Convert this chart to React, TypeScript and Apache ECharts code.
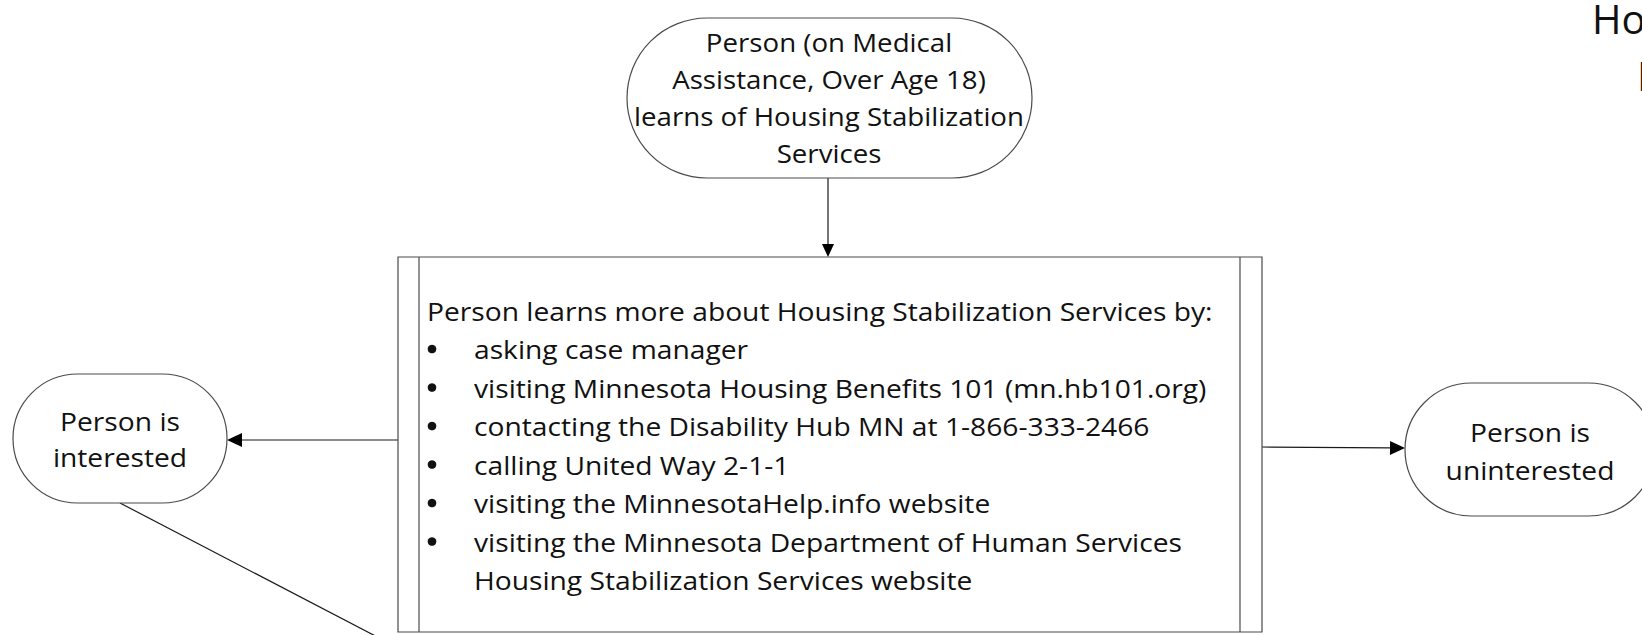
import React, { useEffect, useRef } from "react";
import * as echarts from "echarts";

// ---- content ----
const startNodeLines = [
  "Person (on Medical",
  "Assistance, Over Age 18)",
  "learns of Housing Stabilization",
  "Services",
];
const processHeading = "Person learns more about Housing Stabilization Services by:";
const processBullets = [
  ["asking case manager"],
  ["visiting Minnesota Housing Benefits 101 (mn.hb101.org)"],
  ["contacting the Disability Hub MN at 1-866-333-2466"],
  ["calling United Way 2-1-1"],
  ["visiting the MinnesotaHelp.info website"],
  ["visiting the Minnesota Department of Human Services", "Housing Stabilization Services website"],
];
const interestedLines = ["Person is", "interested"];
const uninterestedLines = ["Person is", "uninterested"];
const titleLines = ["Ho", "I"];

// ---- layout ----
const FONT = "'Open Sans', 'Noto Sans', sans-serif";
const SHAPE_STROKE = "#4a4a4a";
const LINE_STROKE = "#1a1a1a";
const TEXT_FILL = "#111";
const STRETCH = 1.085;

const L = {
  start: { x: 627, y: 18, w: 405, h: 160, cx: 829, lineY0: 42, lineStep: 37.2, fs: 25.5 },
  box: { x: 398, y: 257, w: 864, h: 375, innerL: 419, innerR: 1240 },
  heading: { x: 427, y: 311, fs: 26 },
  bullets: { dotX: 432, dotR: 4.3, textX: 474, y0: 349, step: 38.5, fs: 26 },
  left: { x: 13, y: 374, w: 214, h: 129, cx: 120, lineY0: 421, lineStep: 36, fs: 26 },
  right: { x: 1405, y: 383, w: 250, h: 133, cx: 1530, lineY0: 432, lineStep: 38, fs: 26 },
  title: { x: 1592, y0: 18, x2: 1637, y1: 75, fs: 40 },
};

function txt(text: string, x: number, y: number, fs: number, align = "left", family = FONT, sx = STRETCH) {
  return {
    type: "text",
    x,
    y,
    scaleX: sx,
    silent: true,
    style: {
      text,
      fill: TEXT_FILL,
      fontSize: fs,
      fontFamily: family,
      align,
      textAlign: align,
      verticalAlign: "middle",
      textVerticalAlign: "middle",
    },
  };
}

function arrow(x1: number, y1: number, x2: number, y2: number, len = 14, half = 6.5) {
  const dx = x2 - x1;
  const dy = y2 - y1;
  const d = Math.sqrt(dx * dx + dy * dy);
  const ux = dx / d;
  const uy = dy / d;
  const bx = x2 - ux * len;
  const by = y2 - uy * len;
  const px = -uy;
  const py = ux;
  return [
    {
      type: "line",
      silent: true,
      shape: { x1, y1, x2: bx, y2: by },
      style: { stroke: LINE_STROKE, lineWidth: 1.2 },
    },
    {
      type: "polygon",
      silent: true,
      shape: {
        points: [
          [x2, y2],
          [bx + px * half, by + py * half],
          [bx - px * half, by - py * half],
        ],
      },
      style: { fill: "#000" },
    },
  ];
}

function stadium(n: { x: number; y: number; w: number; h: number }) {
  return {
    type: "rect",
    silent: true,
    shape: { x: n.x, y: n.y, width: n.w, height: n.h, r: n.h / 2 },
    style: { fill: "#fff", stroke: SHAPE_STROKE, lineWidth: 1.2 },
  };
}

export default function App() {
  const ref = useRef<HTMLDivElement>(null);

  useEffect(() => {
    if (!ref.current) return;
    const chart = echarts.init(ref.current, undefined, { renderer: "svg" });

    const els: any[] = [];

    // connectors
    els.push(...arrow(828, L.start.y + L.start.h, 828, L.box.y, 13, 6));
    els.push(...arrow(L.box.x, 440, L.left.x + L.left.w, 440, 15, 7));
    els.push(...arrow(L.box.x + L.box.w, 447, L.right.x, 448, 15, 7));
    els.push({
      type: "line",
      silent: true,
      shape: { x1: L.left.cx, y1: L.left.y + L.left.h, x2: 385, y2: 641 },
      style: { stroke: LINE_STROKE, lineWidth: 1.2 },
    });

    // start terminator
    els.push(stadium(L.start));
    startNodeLines.forEach((t, i) =>
      els.push(txt(t, L.start.cx, L.start.lineY0 + i * L.start.lineStep, L.start.fs, "center"))
    );

    // predefined-process box
    els.push({
      type: "rect",
      silent: true,
      shape: { x: L.box.x, y: L.box.y, width: L.box.w, height: L.box.h },
      style: { fill: "#fff", stroke: SHAPE_STROKE, lineWidth: 1.2 },
    });
    [L.box.innerL, L.box.innerR].forEach((x) =>
      els.push({
        type: "line",
        silent: true,
        shape: { x1: x, y1: L.box.y, x2: x, y2: L.box.y + L.box.h },
        style: { stroke: SHAPE_STROKE, lineWidth: 1.2 },
      })
    );
    els.push(txt(processHeading, L.heading.x, L.heading.y, L.heading.fs));
    let row = 0;
    processBullets.forEach((lines) => {
      lines.forEach((t, j) => {
        const y = L.bullets.y0 + row * L.bullets.step;
        if (j === 0)
          els.push({
            type: "circle",
            silent: true,
            shape: { cx: L.bullets.dotX, cy: y, r: L.bullets.dotR },
            style: { fill: TEXT_FILL },
          });
        els.push(txt(t, L.bullets.textX, y, L.bullets.fs));
        row++;
      });
    });

    // outcome terminators
    els.push(stadium(L.left));
    interestedLines.forEach((t, i) =>
      els.push(txt(t, L.left.cx, L.left.lineY0 + i * L.left.lineStep, L.left.fs, "center"))
    );
    els.push(stadium(L.right));
    uninterestedLines.forEach((t, i) =>
      els.push(txt(t, L.right.cx, L.right.lineY0 + i * L.right.lineStep, L.right.fs, "center"))
    );

    // clipped title at top right
    els.push(txt(titleLines[0], L.title.x, L.title.y0, L.title.fs, "left", "'Open Sans', sans-serif", 1));
    els.push(txt(titleLines[1], L.title.x2, L.title.y1, L.title.fs, "left", "'Open Sans', sans-serif", 1));

    chart.setOption({
      animation: false,
      backgroundColor: "#ffffff",
      graphic: { elements: els },
    });

    return () => chart.dispose();
  }, []);

  return (
    <div
      ref={ref}
      style={{ position: "fixed", left: 0, top: 0, width: 1642, height: 635, overflow: "hidden" }}
    />
  );
}
